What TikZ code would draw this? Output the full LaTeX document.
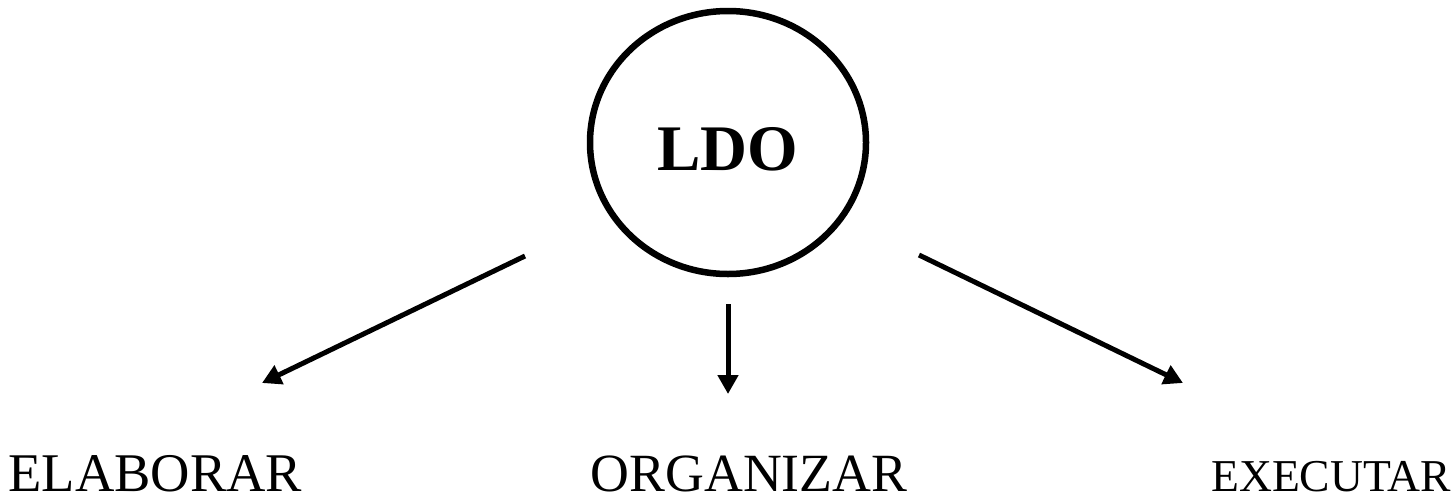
\documentclass[tikz,border=0pt]{standalone}
\usepackage{fontspec}
\setmainfont{Liberation Serif}
\usetikzlibrary{arrows.meta}
\begin{document}
\begin{tikzpicture}[x=1pt,y=-1pt,
  lbl/.style={inner sep=0pt,anchor=base},
  conn/.style={line width=5pt,-{Triangle[length=19pt,width=20pt]}}]
\useasboundingbox (0,0) rectangle (1454,496);
\draw[line width=6.5pt] (728,142.5) ellipse [x radius=138, y radius=131.5];
\node[lbl,font=\fontsize{65}{70}\selectfont\bfseries] (ldo) at (727.5,170) {LDO};
\node[lbl,font=\fontsize{54.5}{60}\selectfont] (elab) at (155.5,491) {ELABORAR};
\node[lbl,font=\fontsize{53.8}{60}\selectfont] (org) at (749,491) {ORGANIZAR};
\node[lbl,font=\fontsize{45.6}{50}\selectfont] (exe) at (1331,491) {EXECUTAR};
\coordinate (s1) at (525,256);
\coordinate (e1) at (262,383);
\coordinate (s2) at (728,304);
\coordinate (e2) at (728,394);
\coordinate (s3) at (919,255);
\coordinate (e3) at (1183,383);
\draw[conn] (s1) -- (e1);
\draw[conn] (s2) -- (e2);
\draw[conn] (s3) -- (e3);
\end{tikzpicture}
\end{document}
